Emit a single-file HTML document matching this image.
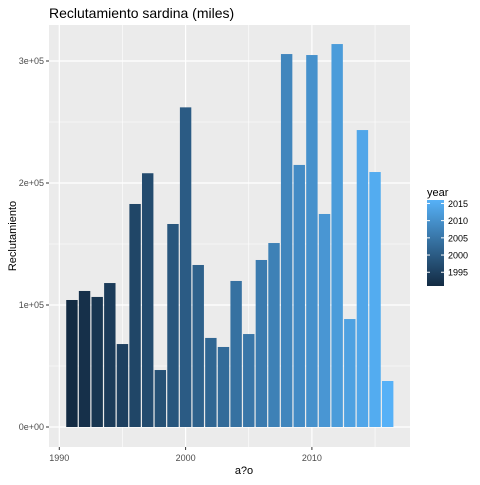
<!DOCTYPE html>
<html><head><meta charset="utf-8"><style>
body{margin:0;background:#fff;font-family:"Liberation Sans",Arial,sans-serif}
svg text{font-family:"Liberation Sans",Arial,sans-serif}
</style></head><body>
<svg id="chart" width="480" height="480" xmlns="http://www.w3.org/2000/svg">
<defs><linearGradient id="lg" x1="0" y1="1" x2="0" y2="0">
<stop offset="0" stop-color="#132B43"/><stop offset="1" stop-color="#56B1F7"/></linearGradient></defs>
<text x="49" y="18" font-size="14" fill="#000">Reclutamiento sardina (miles)</text>
<rect x="49" y="25" width="361" height="422" fill="#EBEBEB"/>
<g id="grid"></g><g id="bars"></g><g id="axes"></g>
<text x="244" y="474" font-size="11" text-anchor="middle" fill="#000">a?o</text>
<text transform="translate(16,236) rotate(-90)" font-size="11" text-anchor="middle" fill="#000">Reclutamiento</text>
<g>
<text x="187" y="196" font-size="11" fill="#000" transform="translate(240,0)">year</text>
<rect x="427" y="200" width="17" height="86" fill="url(#lg)"/>
<g id="legticks"></g>
</g>
</svg>
<script>
const years=[1991,1992,1993,1994,1995,1996,1997,1998,1999,2000,2001,2002,2003,2004,2005,2006,2007,2008,2009,2010,2011,2012,2013,2014,2015,2016];
const values=[104100,111500,106600,118000,68000,182800,208000,46700,166400,262000,132800,73000,65600,119700,76200,136900,150800,305700,214800,304900,174600,313900,88500,243400,209000,37700];
const xTicks=[1990,2000,2010];
const xMinor=[1995,2005,2015];
const yTicks=[0,100000,200000,300000];
const yTickLabels=["0e+00","1e+05","2e+05","3e+05"];
const yMinor=[50000,150000,250000];
const legendTicks=[1995,2000,2005,2010,2015];
const NS='http://www.w3.org/2000/svg';
const xs=y=>59.3+(y-1990)*12.63;
const ys=v=>427-v/100000*122;
function mk(t,a,p){const e=document.createElementNS(NS,t);for(const k in a)e.setAttribute(k,a[k]);p.appendChild(e);return e;}
const g=document.getElementById('grid'),b=document.getElementById('bars'),ax=document.getElementById('axes'),lt=document.getElementById('legticks');
yMinor.forEach(v=>{const l=mk('line',{x1:49,x2:410,y1:ys(v),y2:ys(v),stroke:'#fff','stroke-width':0.6},g);

});
xMinor.forEach(v=>{const l=mk('line',{x1:xs(v),x2:xs(v),y1:25,y2:447,stroke:'#fff','stroke-width':0.6},g);

});
yTicks.forEach((v,i)=>{const l=mk('line',{x1:49,x2:410,y1:ys(v),y2:ys(v),stroke:'#fff','stroke-width':1.2},g);


const t=mk('line',{x1:46,x2:49,y1:ys(v),y2:ys(v),stroke:'#333'},ax);


const tx=mk('text',{x:44,y:ys(v)+3,'font-size':9,'text-anchor':'end',fill:'#4D4D4D'},ax);tx.textContent=yTickLabels[i];

});
xTicks.forEach(v=>{const l=mk('line',{x1:xs(v),x2:xs(v),y1:25,y2:447,stroke:'#fff','stroke-width':1.2},g);


const t=mk('line',{x1:xs(v),x2:xs(v),y1:447,y2:450,stroke:'#333'},ax);


const tx=mk('text',{x:xs(v),y:461,'font-size':9,'text-anchor':'middle',fill:'#4D4D4D'},ax);tx.textContent=v;

});
const lo=[0x13,0x2B,0x43],hi=[0x56,0xB1,0xF7],ymin=Math.min(...years),ymax=Math.max(...years);
function col(y){const f=(y-ymin)/(ymax-ymin);return 'rgb('+lo.map((c,i)=>Math.round(c+(hi[i]-c)*f)).join(',')+')';}
years.forEach((y,i)=>{const w=11.4;const r=mk('rect',{x:xs(y)-w/2,y:ys(values[i]),width:w,height:ys(0)-ys(values[i]),fill:col(y)},b);

});
legendTicks.forEach(v=>{const yy=286-(v-ymin)/(ymax-ymin)*86;
mk('line',{x1:427,x2:430,y1:yy,y2:yy,stroke:'#fff'},lt);mk('line',{x1:441,x2:444,y1:yy,y2:yy,stroke:'#fff'},lt);
const tx=mk('text',{x:448,y:yy+3.5,'font-size':9,fill:'#000'},lt);tx.textContent=v;

});
</script>
</body></html>
